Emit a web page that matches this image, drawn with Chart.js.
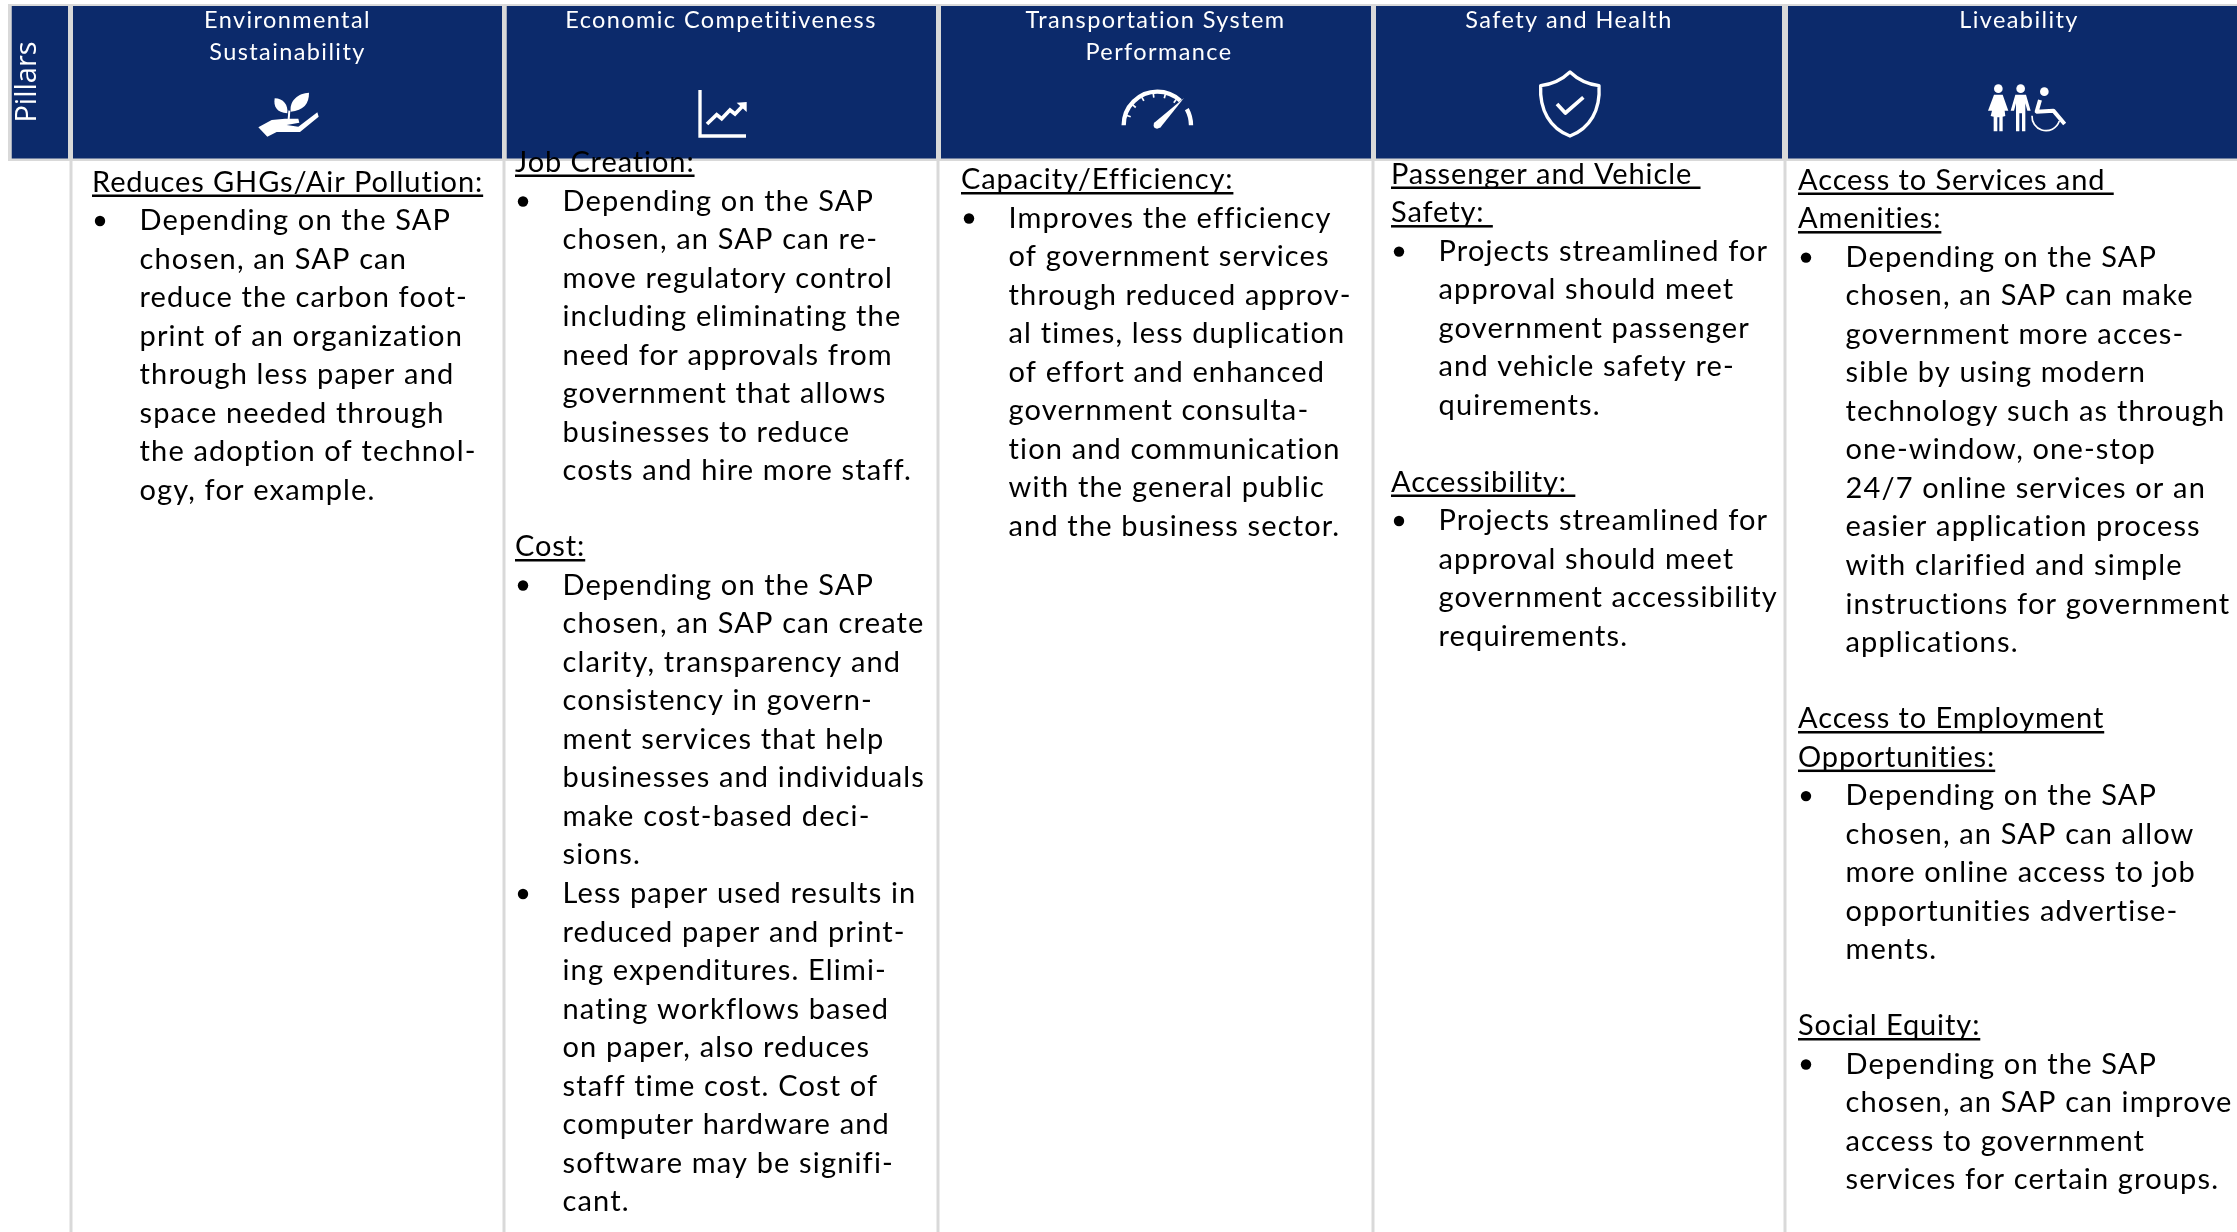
<!DOCTYPE html>
<html>
<head>
<meta charset="utf-8">
<title>Pillars</title>
<script src="https://cdn.jsdelivr.net/npm/chart.js@4"></script>
<style>
  html, body { margin: 0; padding: 0; background: #fff; overflow: hidden; }
  canvas { display: block; }
</style>
</head>
<body>
<canvas id="myChart" width="2237" height="1232"></canvas>
<script>
// header cells, in pixels of the 2237x1232 picture
const pillarTitle = "Pillars";
const headerTitles = [
  ["Environmental", "Sustainability"],
  ["Economic Competitiveness"],
  ["Transportation System", "Performance"],
  ["Safety and Health"],
  ["Liveability"],
];
const cellLeft = [11.5, 73, 506.5, 941, 1376, 1788];
const cellRight = [68, 502, 936, 1371, 1782, 2237];
const separators = [71, 504, 938, 1373, 1785];

// body text, one array per block. h = underlined heading, b = first line of bullet, t = rest
const envLines = [
  ["h", "Reduces GHGs/Air Pollution:"],
  ["b", "Depending on the SAP"],
  ["t", "chosen, an SAP can"],
  ["t", "reduce the carbon foot-"],
  ["t", "print of an organization"],
  ["t", "through less paper and"],
  ["t", "space needed through"],
  ["t", "the adoption of technol-"],
  ["t", "ogy, for example."],
];
const econLines1 = [
  ["h", "Job Creation:"],
];
const econLines2 = [
  ["b", "Depending on the SAP"],
  ["t", "chosen, an SAP can re-"],
  ["t", "move regulatory control"],
  ["t", "including eliminating the"],
  ["t", "need for approvals from"],
  ["t", "government that allows"],
  ["t", "businesses to reduce"],
  ["t", "costs and hire more staff."],
];
const econLines3 = [
  ["h", "Cost:"],
  ["b", "Depending on the SAP"],
  ["t", "chosen, an SAP can create"],
  ["t", "clarity, transparency and"],
  ["t", "consistency in govern-"],
  ["t", "ment services that help"],
  ["t", "businesses and individuals"],
  ["t", "make cost-based deci-"],
  ["t", "sions."],
  ["b", "Less paper used results in"],
  ["t", "reduced paper and print-"],
  ["t", "ing expenditures. Elimi-"],
  ["t", "nating workflows based"],
  ["t", "on paper, also reduces"],
  ["t", "staff time cost. Cost of"],
  ["t", "computer hardware and"],
  ["t", "software may be signifi-"],
  ["t", "cant."],
];
const transLines = [
  ["h", "Capacity/Efficiency:"],
  ["b", "Improves the efficiency"],
  ["t", "of government services"],
  ["t", "through reduced approv-"],
  ["t", "al times, less duplication"],
  ["t", "of effort and enhanced"],
  ["t", "government consulta-"],
  ["t", "tion and communication"],
  ["t", "with the general public"],
  ["t", "and the business sector."],
];
const safetyLines1 = [
  ["h", "Passenger and Vehicle "],
  ["h", "Safety: "],
  ["b", "Projects streamlined for"],
  ["t", "approval should meet"],
  ["t", "government passenger"],
  ["t", "and vehicle safety re-"],
  ["t", "quirements."],
];
const safetyLines2 = [
  ["h", "Accessibility: "],
  ["b", "Projects streamlined for"],
  ["t", "approval should meet"],
  ["t", "government accessibility"],
  ["t", "requirements."],
];
const liveLines1 = [
  ["h", "Access to Services and "],
  ["h", "Amenities:"],
  ["b", "Depending on the SAP"],
  ["t", "chosen, an SAP can make"],
  ["t", "government more acces-"],
  ["t", "sible by using modern"],
  ["t", "technology such as through"],
  ["t", "one-window, one-stop"],
  ["t", "24/7 online services or an"],
  ["t", "easier application process"],
  ["t", "with clarified and simple"],
  ["t", "instructions for government"],
  ["t", "applications."],
];
const liveLines2 = [
  ["h", "Access to Employment"],
  ["h", "Opportunities:"],
  ["b", "Depending on the SAP"],
  ["t", "chosen, an SAP can allow"],
  ["t", "more online access to job"],
  ["t", "opportunities advertise-"],
  ["t", "ments."],
];
const liveLines3 = [
  ["h", "Social Equity:"],
  ["b", "Depending on the SAP"],
  ["t", "chosen, an SAP can improve"],
  ["t", "access to government"],
  ["t", "services for certain groups."],
];

const NAVY = "#0c2a6b";
const GREY = "#d9d9d9";
const LINE_STEP = 38.55;
const BODY_FONT = "29px Lato";
const HEAD_FONT = "23.5px Lato";

function band(left, right, top, bottom, color, order) {
  return {
    data: [{ x: left, y: top }, { x: right, y: top }],
    fill: { value: bottom },
    backgroundColor: color,
    borderWidth: 0,
    pointRadius: 0,
    order: order,
  };
}

const datasets = [band(8, 2237, 4, 161, GREY, 10)];
cellLeft.forEach(function (left, i) {
  datasets.push(band(left, cellRight[i], 6, 158.5, NAVY, 1));
});
separators.forEach(function (x) {
  datasets.push({
    data: [{ x: x, y: 160 }, { x: x, y: 1232 }],
    borderColor: GREY,
    borderWidth: 3,
    pointRadius: 0,
    order: 5,
  });
});

function drawBlock(chart, lines, headX, firstBaseline) {
  const ctx = chart.ctx;
  const sx = chart.scales.x;
  const sy = chart.scales.y;
  ctx.font = BODY_FONT;
  ctx.fillStyle = "#000";
  ctx.textAlign = "left";
  ctx.textBaseline = "alphabetic";
  lines.forEach(function (line, i) {
    const y = sy.getPixelForValue(firstBaseline + i * LINE_STEP);
    if (line[0] == "h") {
      const x = sx.getPixelForValue(headX);
      ctx.letterSpacing = "0.9px";
      ctx.fillText(line[1], x, y);
      ctx.fillRect(x, y + 3, ctx.measureText(line[1]).width, 2.5);
    } else {
      ctx.letterSpacing = "1.15px";
      ctx.fillText(line[1], sx.getPixelForValue(headX + 47.5), y);
      if (line[0] == "b") {
        ctx.beginPath();
        ctx.arc(sx.getPixelForValue(headX + 8), y - 9, 5.2, 0, Math.PI * 2);
        ctx.fill();
      }
    }
  });
}

function poly(ctx, pts) {
  ctx.beginPath();
  pts.forEach(function (p, i) {
    if (i == 0) ctx.moveTo(p[0], p[1]);
    else ctx.lineTo(p[0], p[1]);
  });
}

function drawIcons(ctx) {
  ctx.save();
  ctx.fillStyle = "#fff";
  ctx.strokeStyle = "#fff";
  ctx.lineJoin = "round";

  // plant in hand
  ctx.save();
  ctx.translate(230, 70);
  ctx.scale(1 / 3, 1 / 3);
  poly(ctx, [[85, 172], [125, 150], [165, 146], [205, 146], [208, 158], [170, 165], [205, 170], [262, 127], [266, 140], [210, 186], [140, 186], [112, 200]]);
  ctx.fill();
  ctx.beginPath();
  ctx.moveTo(172, 130);
  ctx.bezierCurveTo(140, 128, 130, 110, 134, 85);
  ctx.bezierCurveTo(160, 85, 175, 105, 172, 130);
  ctx.fill();
  ctx.beginPath();
  ctx.moveTo(182, 125);
  ctx.bezierCurveTo(178, 90, 205, 70, 237, 68);
  ctx.bezierCurveTo(238, 100, 220, 122, 182, 125);
  ctx.fill();
  ctx.lineWidth = 6;
  ctx.beginPath();
  ctx.moveTo(176, 148);
  ctx.lineTo(178, 122);
  ctx.stroke();
  ctx.restore();

  // growth chart
  ctx.save();
  ctx.translate(680, 70);
  ctx.scale(1 / 3, 1 / 3);
  ctx.lineJoin = "miter";
  ctx.lineWidth = 10;
  poly(ctx, [[60, 60], [60, 198], [198, 198]]);
  ctx.stroke();
  ctx.lineWidth = 11;
  poly(ctx, [[81, 162], [110, 134], [125, 146], [150, 120], [165, 132], [188, 108]]);
  ctx.stroke();
  poly(ctx, [[170, 98], [200, 96], [200, 126]]);
  ctx.fill();
  ctx.restore();

  // gauge
  ctx.save();
  ctx.translate(1100, 70);
  ctx.scale(1 / 3, 1 / 3);
  ctx.lineWidth = 13;
  ctx.beginPath();
  ctx.arc(172, 166, 101, Math.PI, Math.PI * 1.74);
  ctx.stroke();
  ctx.beginPath();
  ctx.arc(172, 166, 101, Math.PI * 1.84, Math.PI * 2);
  ctx.stroke();
  ctx.lineWidth = 5;
  [1.1, 1.22, 1.34, 1.46, 1.58, 1.7].forEach(function (a) {
    ctx.beginPath();
    ctx.moveTo(172 + 96 * Math.cos(a * Math.PI), 166 + 96 * Math.sin(a * Math.PI));
    ctx.lineTo(172 + 84 * Math.cos(a * Math.PI), 166 + 84 * Math.sin(a * Math.PI));
    ctx.stroke();
  });
  poly(ctx, [[252, 84], [180, 174], [161, 160]]);
  ctx.fill();
  ctx.beginPath();
  ctx.arc(171, 166, 10, 0, Math.PI * 2);
  ctx.fill();
  ctx.restore();

  // shield
  ctx.save();
  ctx.translate(1510, 60);
  ctx.scale(1 / 3, 1 / 3);
  ctx.lineWidth = 10;
  ctx.beginPath();
  ctx.moveTo(180, 36);
  ctx.bezierCurveTo(205, 60, 235, 73, 267, 77);
  ctx.bezierCurveTo(272, 150, 240, 205, 180, 228);
  ctx.bezierCurveTo(120, 205, 88, 150, 92, 77);
  ctx.bezierCurveTo(125, 73, 155, 60, 180, 36);
  ctx.closePath();
  ctx.stroke();
  ctx.lineWidth = 11;
  poly(ctx, [[141, 132], [166, 159], [220, 112]]);
  ctx.stroke();
  ctx.restore();

  // people
  ctx.save();
  ctx.translate(1970, 70);
  ctx.scale(1 / 3, 1 / 3);
  [[85, 56], [152, 56], [223, 65]].forEach(function (h) {
    ctx.beginPath();
    ctx.arc(h[0], h[1], 13, 0, Math.PI * 2);
    ctx.fill();
  });
  poly(ctx, [[72, 74], [98, 74], [115, 122], [104, 122], [106, 138], [98, 140], [98, 184], [88, 184], [88, 142], [82, 142], [82, 184], [71, 184], [71, 140], [62, 138], [66, 122], [54, 122]]);
  ctx.fill();
  poly(ctx, [[136, 74], [168, 74], [182, 122], [172, 122], [166, 100], [166, 184], [156, 184], [156, 130], [148, 130], [148, 184], [138, 184], [138, 100], [132, 122], [122, 122]]);
  ctx.fill();
  ctx.lineWidth = 12;
  poly(ctx, [[210, 90], [200, 125], [250, 122], [284, 162]]);
  ctx.stroke();
  ctx.lineWidth = 5;
  ctx.beginPath();
  ctx.arc(228, 140, 42, Math.PI * 0.1, Math.PI * 1.02);
  ctx.stroke();
  ctx.restore();

  ctx.restore();
}

const tablePlugin = {
  id: "tablePlugin",
  afterDatasetsDraw(chart) {
    const ctx = chart.ctx;
    ctx.save();
    ctx.fillStyle = "#fff";
    ctx.textBaseline = "middle";
    ctx.textAlign = "center";

    // rotated pillar label
    ctx.save();
    ctx.translate(28, 82);
    ctx.rotate(-Math.PI / 2);
    ctx.font = "29px 'Open Sans'";
    ctx.fillText(pillarTitle, 0, 0);
    ctx.restore();

    ctx.font = HEAD_FONT;
    ctx.letterSpacing = "1.4px";
    const headCenters = [[287.5, 287.5], [721], [1155.5, 1159], [1569], [2019]];
    headerTitles.forEach(function (lines, c) {
      lines.forEach(function (text, i) {
        ctx.fillText(text, headCenters[c][i], 20 + i * 32);
      });
    });
    ctx.letterSpacing = "0px";

    drawIcons(ctx);

    drawBlock(chart, envLines, 92, 191.5);
    drawBlock(chart, econLines1, 515, 171.5);
    drawBlock(chart, econLines2, 515, 210.5);
    drawBlock(chart, econLines3, 515, 556);
    drawBlock(chart, transLines, 961, 189);
    drawBlock(chart, safetyLines1, 1391, 183.5);
    drawBlock(chart, safetyLines2, 1391, 491.5);
    drawBlock(chart, liveLines1, 1798, 189.5);
    drawBlock(chart, liveLines2, 1798, 728);
    drawBlock(chart, liveLines3, 1798, 1035);
    ctx.restore();
  },
};

const myChart = new Chart(document.getElementById("myChart").getContext("2d"), {
  type: "line",
  data: { datasets: datasets },
  options: {
    responsive: false,
    animation: false,
    layout: { padding: 0 },
    scales: {
      x: { type: "linear", min: 0, max: 2237, display: false },
      y: { type: "linear", min: 0, max: 1232, reverse: true, display: false },
    },
    plugins: {
      legend: { display: false },
      tooltip: { enabled: false },
    },
  },
  plugins: [tablePlugin],
});
</script>
</body>
</html>
